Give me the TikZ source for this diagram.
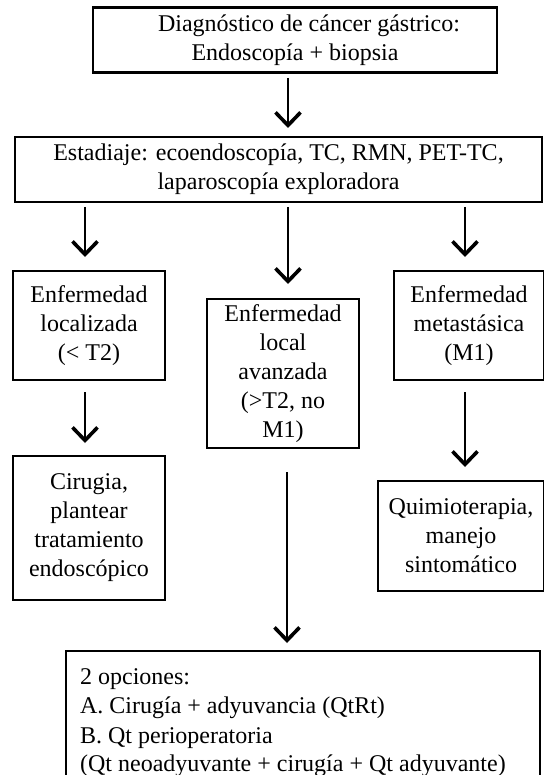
\documentclass[tikz,border=0pt]{standalone}
\usepackage{fontspec}
\setmainfont{Liberation Serif}
\usetikzlibrary{arrows.meta}
\begin{document}
\begin{tikzpicture}[x=0.5pt,y=-0.5pt,
  box/.style={draw, line width=1.1pt, align=center, font=\fontsize{12}{14.5}\selectfont, inner sep=0pt},
  arr/.style={line width=1.4pt, -{Straight Barb[length=6.5pt,width=12.5pt,line width=1.8pt]}}]
\useasboundingbox (0,0) rectangle (544,775);
% boxes
\node[box, minimum width=202pt, minimum height=32.5pt] (diag) at (295,40)
  {\hspace*{14pt}Diagnóstico de cáncer gástrico:\\Endoscopía + biopsia};
\node[box, minimum width=263.5pt, minimum height=32.5pt] (est) at (278.5,169.5)
  {Estadiaje: ecoendoscopía, TC, RMN, PET-TC,\\laparoscopía exploradora};
\node[box, minimum width=76pt, minimum height=54.5pt] (loc) at (89,325.5)
  {Enfermedad\\localizada\\(< T2)};
\node[box, minimum width=76pt, minimum height=74.5pt] (lav) at (283,373.5)
  {Enfermedad\\local\\avanzada\\(>T2, no\\M1)};
\node[box, minimum width=75pt, minimum height=54.5pt] (met) at (469,325.5)
  {Enfermedad\\metastásica\\(M1)};
\node[box, minimum width=76pt, minimum height=72pt] (cir) at (89,528)
  {Cirugia,\\plantear\\tratamiento\\endoscópico};
\node[box, minimum width=83pt, minimum height=55pt] (qui) at (461,536)
  {Quimioterapia,\\manejo\\sintomático};
\node[box, anchor=north west, align=flush left, text width=223pt, inner xsep=7pt, inner ysep=9pt] (opc) at (65,650)
  {2 opciones:\\A. Cirugía + adyuvancia (QtRt)\\B. Qt perioperatoria\\(Qt neoadyuvante + cirugía + Qt adyuvante)\par\vspace*{20pt}};
% connector end points
\coordinate (a1s) at (288,78);  \coordinate (a1e) at (288,128);
\coordinate (a2s) at (85,207);  \coordinate (a2e) at (85,257);
\coordinate (a3s) at (288,207); \coordinate (a3e) at (288,284);
\coordinate (a4s) at (465,207); \coordinate (a4e) at (465,257);
\coordinate (a5s) at (85,392);  \coordinate (a5e) at (85,443);
\coordinate (a6s) at (465,392); \coordinate (a6e) at (465,467);
\coordinate (a7s) at (287,472); \coordinate (a7e) at (287,643);
% connectors
\draw[arr] (a1s) -- (a1e);
\draw[arr] (a2s) -- (a2e);
\draw[arr] (a3s) -- (a3e);
\draw[arr] (a4s) -- (a4e);
\draw[arr] (a5s) -- (a5e);
\draw[arr] (a6s) -- (a6e);
\draw[arr] (a7s) -- (a7e);
\end{tikzpicture}
\end{document}
